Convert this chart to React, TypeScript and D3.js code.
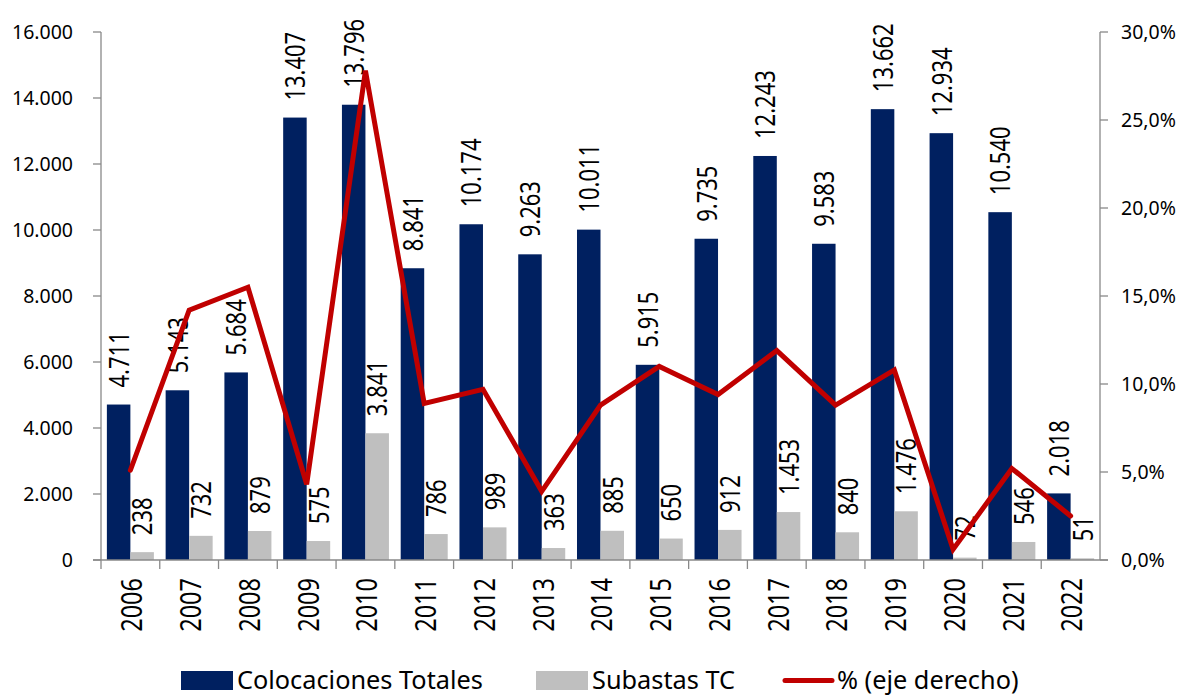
import React from "react";
import * as d3 from "d3";

const years = ["2006","2007","2008","2009","2010","2011","2012","2013","2014","2015","2016","2017","2018","2019","2020","2021","2022"];
const colocaciones = [4711,5143,5684,13407,13796,8841,10174,9263,10011,5915,9735,12243,9583,13662,12934,10540,2018];
const subastas = [238,732,879,575,3841,786,989,363,885,650,912,1453,840,1476,72,546,51];
const pct = [5.1,14.2,15.5,4.3,27.8,8.9,9.7,3.9,8.8,11.0,9.4,11.9,8.8,10.8,0.6,5.2,2.5];
const leftTicks = [0,2000,4000,6000,8000,10000,12000,14000,16000];
const rightTicks = [0,5,10,15,20,25,30];
const seriesNames = ["Colocaciones Totales","Subastas TC","% (eje derecho)"];

const W = 1182, H = 696;
const left = 101, right = 1100, top = 32, bottom = 560;
const DARK = "#002060", GRAY = "#BFBFBF", RED = "#C00000", AXIS = "#898989";
const FONT = "'Noto Sans', 'Open Sans', sans-serif";

const es = d3.formatLocale({ decimal: ",", thousands: ".", grouping: [3], currency: ["", "€"] });
const fmtInt = es.format(",d");
const fmtPct = es.format(".1f");

export default function App() {
  const x = d3.scaleBand<string>().domain(years).range([left, right]).paddingInner(0.2).paddingOuter(0.1);
  const sub = d3.scaleBand<string>().domain(["c", "s"]).range([0, x.bandwidth()]);
  const y = d3.scaleLinear().domain([0, 16000]).range([bottom, top]);
  const y2 = d3.scaleLinear().domain([0, 30]).range([bottom, top]);
  const step = x.step();
  const line = d3.line<number>()
    .x((_, i) => (x(years[i]) as number) + x.bandwidth() / 2)
    .y((d) => y2(d));

  const valueLabel = (cx: number, topY: number, text: string, key: string) => (
    <text key={key} transform={`translate(${cx + 1},${topY - 17}) rotate(-90) scale(1,1.2)`}
      textAnchor="start" dy="0.35em" fontSize={22} fontFamily={FONT} fill="#000">{text}</text>
  );

  return (
    <svg width={W} height={H} style={{ position: "absolute", left: 0, top: 0, background: "#fff" }}>
      {/* bars */}
      {years.map((yr, i) => {
        const x0 = x(yr) as number;
        return (
          <g key={yr}>
            <rect x={x0 + (sub("c") as number)} y={y(colocaciones[i])} width={sub.bandwidth()} height={bottom - y(colocaciones[i])} fill={DARK} />
            <rect x={x0 + (sub("s") as number)} y={y(subastas[i])} width={sub.bandwidth()} height={bottom - y(subastas[i])} fill={GRAY} />
          </g>
        );
      })}
      {/* axes */}
      <line x1={left} x2={left} y1={top} y2={bottom} stroke={AXIS} strokeWidth={1.3} />
      <line x1={right} x2={right} y1={top} y2={bottom} stroke={AXIS} strokeWidth={1.3} />
      <line x1={left - 8} x2={right + 8} y1={bottom} y2={bottom} stroke={AXIS} strokeWidth={1.3} />
      {leftTicks.map((t) => (
        <g key={"l" + t}>
          <line x1={left - 8} x2={left} y1={y(t)} y2={y(t)} stroke={AXIS} strokeWidth={1.3} />
          <text x={73} y={y(t)} dy="0.35em" textAnchor="end" fontSize={19.5} fontFamily={FONT} fill="#000">{fmtInt(t)}</text>
        </g>
      ))}
      {rightTicks.map((t) => (
        <g key={"r" + t}>
          <line x1={right} x2={right + 8} y1={y2(t)} y2={y2(t)} stroke={AXIS} strokeWidth={1.3} />
          <text x={1121} y={y2(t)} dy="0.35em" textAnchor="start" fontSize={19.5} fontFamily={FONT} fill="#000">{fmtPct(t) + "%"}</text>
        </g>
      ))}
      {years.map((yr, i) => (
        <line key={"xt" + yr} x1={left + i * step} x2={left + i * step} y1={bottom} y2={bottom + 9} stroke={AXIS} strokeWidth={1.3} />
      ))}
      {years.map((yr) => (
        <text key={"xl" + yr} transform={`translate(${(x(yr) as number) + x.bandwidth() / 2 + 2},578) rotate(-90) scale(1,1.2)`}
          textAnchor="end" dy="0.35em" fontSize={23.5} fontFamily={FONT} fill="#000">{yr}</text>
      ))}
      {/* value labels */}
      {years.map((yr, i) => {
        const x0 = x(yr) as number;
        return (
          <g key={"v" + yr}>
            {valueLabel(x0 + (sub("c") as number) + sub.bandwidth() / 2, y(colocaciones[i]), fmtInt(colocaciones[i]), "c")}
            {valueLabel(x0 + (sub("s") as number) + sub.bandwidth() / 2, y(subastas[i]), fmtInt(subastas[i]), "s")}
          </g>
        );
      })}
      {/* line */}
      <path d={line(pct) as string} fill="none" stroke={RED} strokeWidth={5} strokeLinejoin="miter" strokeLinecap="round" />
      {/* legend */}
      <rect x={181} y={671} width={52} height={19} fill={DARK} />
      <text x={237} y={680.5} dy="0.35em" fontSize={25.3} fontFamily={FONT} fill="#000">{seriesNames[0]}</text>
      <rect x={536} y={671} width={52} height={19} fill={GRAY} />
      <text x={592} y={680.5} dy="0.35em" fontSize={25.3} fontFamily={FONT} fill="#000">{seriesNames[1]}</text>
      <line x1={785} x2={832} y1={680.5} y2={680.5} stroke={RED} strokeWidth={5} strokeLinecap="round" />
      <text x={837} y={680.5} dy="0.35em" fontSize={25.3} fontFamily={FONT} fill="#000">{seriesNames[2]}</text>
    </svg>
  );
}
